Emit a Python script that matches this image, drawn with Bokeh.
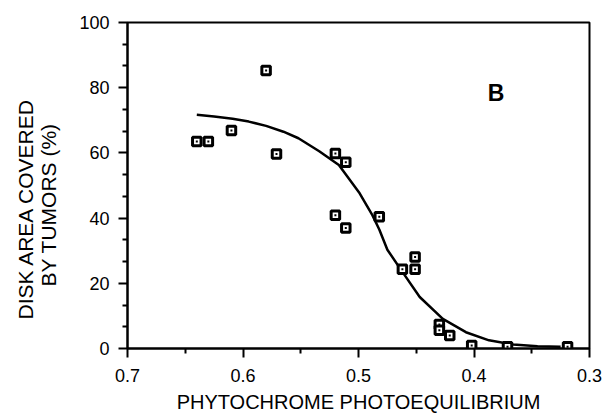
from bokeh.plotting import figure
from bokeh.models import Range1d, Label, Title, FixedTicker, NumeralTickFormatter
from bokeh.embed import file_html
from bokeh.resources import INLINE

# Data
pe_x = [0.640, 0.630, 0.610, 0.580, 0.571, 0.520, 0.520, 0.511, 0.511, 0.482,
        0.462, 0.451, 0.451, 0.430, 0.430, 0.421, 0.402, 0.371, 0.319]
tumor_y = [63.5, 63.5, 66.9, 85.3, 59.7, 59.8, 40.9, 57.1, 37.0, 40.4,
           24.3, 28.1, 24.3, 7.4, 5.6, 4.0, 0.9, 0.5, 0.5]

curve_x = [0.640, 0.625, 0.609, 0.595, 0.580, 0.565, 0.552, 0.534, 0.517, 0.499,
           0.488, 0.482, 0.475, 0.462, 0.447, 0.427, 0.407, 0.387, 0.366, 0.345, 0.325]
curve_y = [71.7, 71.2, 70.5, 69.6, 68.3, 66.5, 64.5, 60.5, 56.3, 47.6,
           40.9, 36.5, 30.3, 23.5, 15.8, 9.1, 5.0, 2.5, 1.2, 0.7, 0.5]

x_ticks = [0.7, 0.6, 0.5, 0.4, 0.3]
x_minor = [0.65, 0.55, 0.45, 0.35]
y_ticks = [0, 20, 40, 60, 80, 100]
y_minor = [v * 20 / 3 for v in range(16) if v % 3 != 0]

FONT = "Liberation Sans"

p = figure(width=605, height=418, x_range=Range1d(0.7, 0.3), y_range=Range1d(0, 100),
           output_backend="svg", toolbar_location=None,
           min_border_left=127, min_border_right=16, min_border_top=22, min_border_bottom=70)

p.xgrid.visible = False
p.ygrid.visible = False
p.outline_line_color = "black"
p.outline_line_width = 2
p.outline_line_alpha = 1.0

for ax in (p.xaxis[0], p.yaxis[0]):
    ax.axis_line_width = 2
    ax.major_tick_line_width = 2
    ax.minor_tick_line_width = 2
    ax.major_tick_in = 0
    ax.minor_tick_in = 0
    ax.major_tick_out = 9
    ax.minor_tick_out = 5
    ax.major_label_text_font = FONT
    ax.major_label_text_font_size = "18px"
    ax.major_label_text_color = "black"

p.xaxis[0].ticker = FixedTicker(ticks=x_ticks, minor_ticks=x_minor)
p.yaxis[0].ticker = FixedTicker(ticks=y_ticks, minor_ticks=y_minor)
p.xaxis[0].formatter = NumeralTickFormatter(format="0.0")
p.yaxis[0].formatter = NumeralTickFormatter(format="0")
p.xaxis[0].major_label_standoff = 11
p.yaxis[0].major_label_standoff = 9

p.xaxis[0].axis_label = "PHYTOCHROME PHOTOEQUILIBRIUM"
p.xaxis[0].axis_label_text_font = FONT
p.xaxis[0].axis_label_text_font_size = "20px"
p.xaxis[0].axis_label_text_font_style = "normal"
p.xaxis[0].axis_label_text_color = "black"
p.xaxis[0].axis_label_standoff = 6

# blank spacer label on the y axis to push the two title lines outward
p.yaxis[0].axis_label = " "
p.yaxis[0].axis_label_text_font_size = "10px"
p.yaxis[0].axis_label_standoff = 3

p.line(curve_x, curve_y, line_color="black", line_width=2.5)
p.scatter(pe_x, tumor_y, marker="square", size=8.5, fill_color="white",
          line_color="black", line_width=3)
p.scatter(pe_x, tumor_y, marker="square", size=2, fill_color="black", line_color=None)

p.add_layout(Label(x=0.381, y=78.5, text="B", text_font=FONT, text_font_size="23px",
                   text_font_style="bold", text_color="black", text_align="center",
                   text_baseline="alphabetic"))

# y-axis label, two lines (inner line first)
p.add_layout(Title(text="BY TUMORS (%)", align="left", offset=62, standoff=0,
                   text_font=FONT, text_font_size="21px", text_font_style="normal",
                   text_color="black"), "left")
p.add_layout(Title(text="DISK AREA COVERED", align="left", offset=29, standoff=-4,
                   text_font=FONT, text_font_size="21px", text_font_style="normal",
                   text_color="black"), "left")

open("out.html", "w").write(file_html(p, INLINE))
